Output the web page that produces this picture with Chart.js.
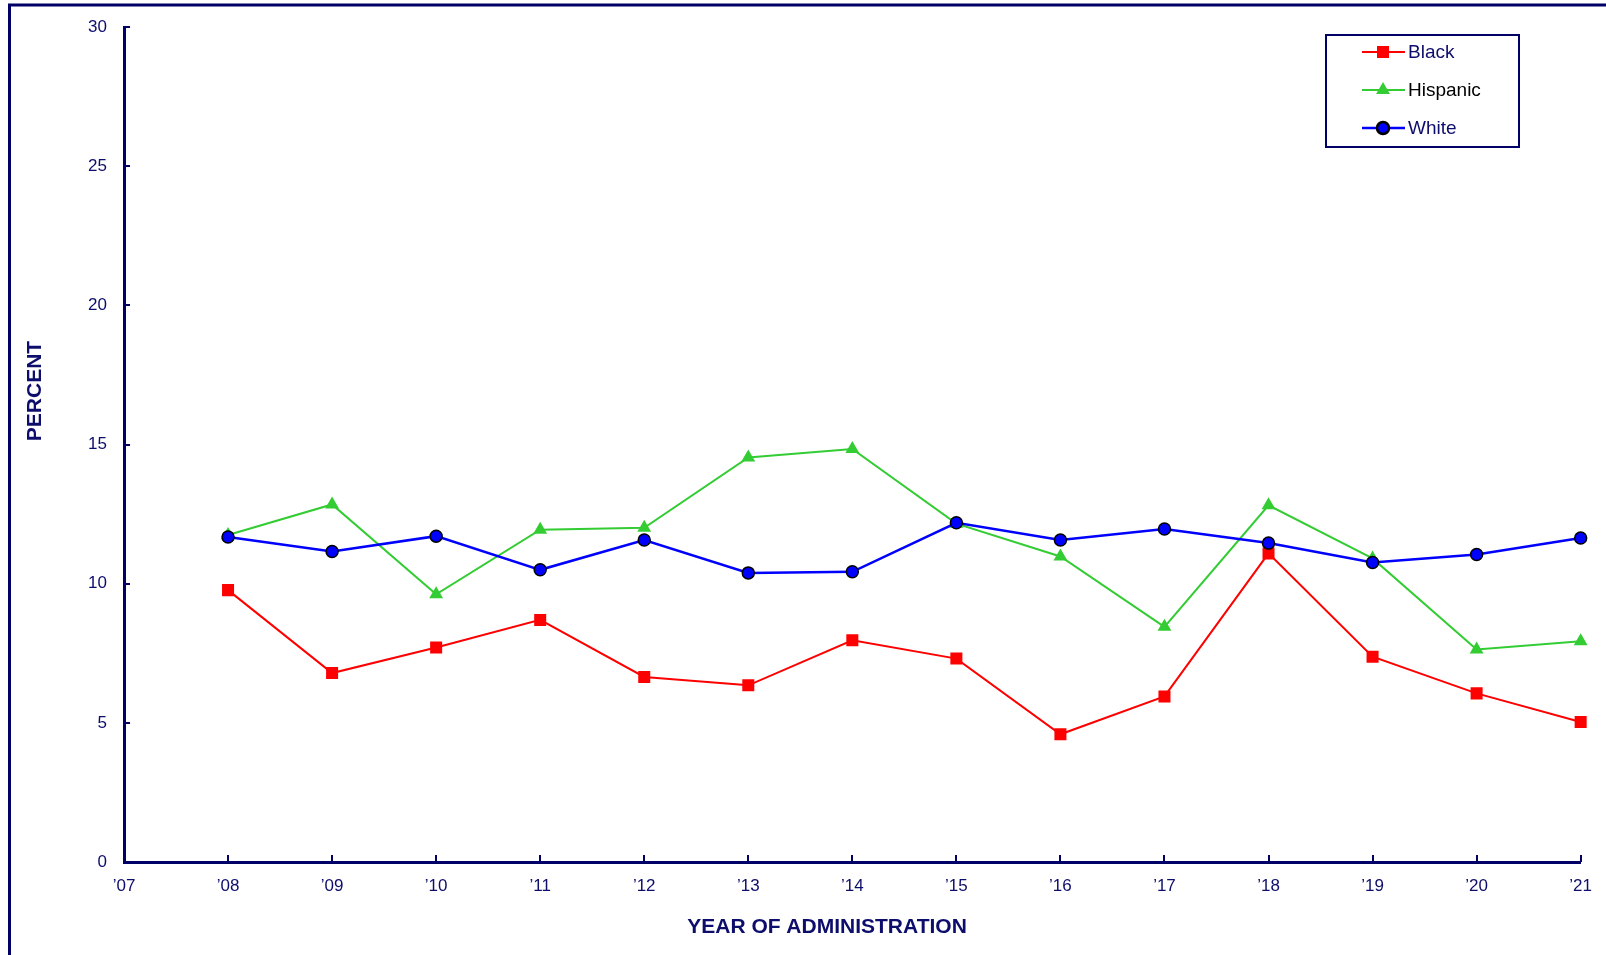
<!DOCTYPE html>
<html>
<head>
<meta charset="utf-8">
<script src="https://cdn.jsdelivr.net/npm/chart.js@4.4.1/dist/chart.umd.min.js"></script>
<style>
    html, body { margin: 0; padding: 0; background: #fff; }
    #wrap { width: 1606px; height: 955px; position: relative; }
</style>
</head>
<body>
<div id="wrap"><canvas id="chart"></canvas></div>
<script>
(function() {
    'use strict';

    // categories and series
    const years = ['\u201907','\u201908','\u201909','\u201910','\u201911','\u201912','\u201913','\u201914','\u201915','\u201916','\u201917','\u201918','\u201919','\u201920','\u201921'];
    const dataYears = years.slice(1);
    const black    = [9.77, 6.79, 7.71, 8.70, 6.65, 6.35, 7.97, 7.31, 4.59, 5.95, 11.09, 7.38, 6.06, 5.03];
    const hispanic = [11.75, 12.85, 9.62, 11.94, 12.01, 14.54, 14.84, 12.16, 10.98, 8.45, 12.82, 10.91, 7.64, 7.93];
    const white    = [11.68, 11.16, 11.71, 10.50, 11.57, 10.39, 10.43, 12.19, 11.57, 11.97, 11.46, 10.76, 11.05, 11.64];
    const yTicks = [0, 5, 10, 15, 20, 25, 30];

    const NAVY = '#000066';
    const TEXT = '#0d0d6b';
    const FONT = 'Liberation Sans, Arial, sans-serif';

    const pts = arr => arr.map((v, i) => ({ x: dataYears[i], y: v }));

    // frame, inward tick marks, axis titles
    const decor = {
        id: 'decor',
        afterDraw(chart) {
            const ctx = chart.ctx;
            const xs = chart.scales.x, ys = chart.scales.y;
            ctx.save();
            ctx.strokeStyle = NAVY;
            ctx.lineWidth = 3;
            ctx.beginPath();
            ctx.moveTo(9.5, 1000); ctx.lineTo(9.5, 5); ctx.lineTo(1700, 5);
            ctx.stroke();

            ctx.lineWidth = 2;
            ctx.beginPath();
            years.forEach((_, i) => {
                const px = Math.round(xs.getPixelForValue(i));
                if (i === 0) return;
                ctx.moveTo(px, xs.top); ctx.lineTo(px, xs.top - 7);
            });
            yTicks.forEach(v => {
                const py = Math.round(ys.getPixelForValue(v));
                if (v === 0) return;
                ctx.moveTo(ys.right, py); ctx.lineTo(ys.right + 6, py);
            });
            ctx.stroke();

            ctx.fillStyle = TEXT;
            ctx.font = 'bold 21px ' + FONT;
            ctx.textAlign = 'center';
            ctx.textBaseline = 'middle';
            ctx.fillText('YEAR OF ADMINISTRATION', 827, 927);
            ctx.translate(35, 391);
            ctx.rotate(-Math.PI / 2);
            ctx.fillText('PERCENT', 0, 0);
            ctx.restore();
        }
    };

    // boxed legend with line + marker samples
    const boxLegend = {
        id: 'boxLegend',
        afterDraw(chart) {
            const ctx = chart.ctx;
            ctx.save();
            ctx.strokeStyle = NAVY;
            ctx.lineWidth = 2;
            ctx.strokeRect(1326, 35, 193, 112);
            const rows = [52, 90, 128];
            const textColors = [TEXT, '#000000', TEXT];
            chart.data.datasets.forEach((ds, i) => {
                const y = rows[i];
                ctx.strokeStyle = ds.borderColor;
                ctx.lineWidth = ds.borderWidth;
                ctx.beginPath();
                ctx.moveTo(1362, y); ctx.lineTo(1405, y);
                ctx.stroke();
                ctx.fillStyle = ds.pointBackgroundColor;
                ctx.strokeStyle = ds.pointBorderColor;
                Chart.helpers.drawPoint(ctx, {
                    pointStyle: ds.pointStyle, radius: ds.pointRadius,
                    borderWidth: ds.pointBorderWidth, rotation: 0
                }, 1383, y);
                ctx.fillStyle = textColors[i];
                ctx.font = '19px ' + FONT;
                ctx.textAlign = 'left';
                ctx.textBaseline = 'middle';
                ctx.fillText(ds.label, 1408, y + 1);
            });
            ctx.restore();
        }
    };

    new Chart(document.getElementById('chart'), {
        type: 'line',
        data: {
            labels: years,
            datasets: [
                {
                    label: 'Black', data: pts(black), order: 2,
                    borderColor: '#ff0000', borderWidth: 2,
                    pointStyle: 'rect', pointRadius: 8.5,
                    pointBackgroundColor: '#ff0000', pointBorderColor: '#ff0000', pointBorderWidth: 0
                },
                {
                    label: 'Hispanic', data: pts(hispanic), order: 3,
                    borderColor: '#33cc33', borderWidth: 2,
                    pointStyle: 'triangle', pointRadius: 8,
                    pointBackgroundColor: '#33cc33', pointBorderColor: '#33cc33', pointBorderWidth: 0
                },
                {
                    label: 'White', data: pts(white), order: 1,
                    borderColor: '#0000ff', borderWidth: 2.5,
                    pointStyle: 'circle', pointRadius: 6,
                    pointBackgroundColor: '#0000ff', pointBorderColor: '#000000', pointBorderWidth: 1.5
                }
            ]
        },
        options: {
            responsive: true, maintainAspectRatio: false, animation: false,
            layout: { padding: { top: 24, right: 24, left: 0, bottom: 0 } },
            plugins: { legend: { display: false }, tooltip: { enabled: false } },
            elements: { line: { tension: 0, fill: false } },
            scales: {
                x: {
                    type: 'category', offset: false,
                    grid: { display: false, drawTicks: false },
                    border: { display: true, color: NAVY, width: 3 },
                    ticks: { color: TEXT, font: { family: FONT, size: 17 }, padding: 14, maxRotation: 0, autoSkip: false },
                    afterFit: s => { s.height = 93; }
                },
                y: {
                    min: 0, max: 30,
                    afterBuildTicks: s => { s.ticks = yTicks.map(v => ({ value: v })); },
                    grid: { display: false, drawTicks: false },
                    border: { display: true, color: NAVY, width: 3 },
                    ticks: { color: TEXT, font: { family: FONT, size: 17 }, padding: 17 },
                    afterFit: s => { s.width = 124; }
                }
            }
        },
        plugins: [decor, boxLegend]
    });
})();
</script>
</body>
</html>
